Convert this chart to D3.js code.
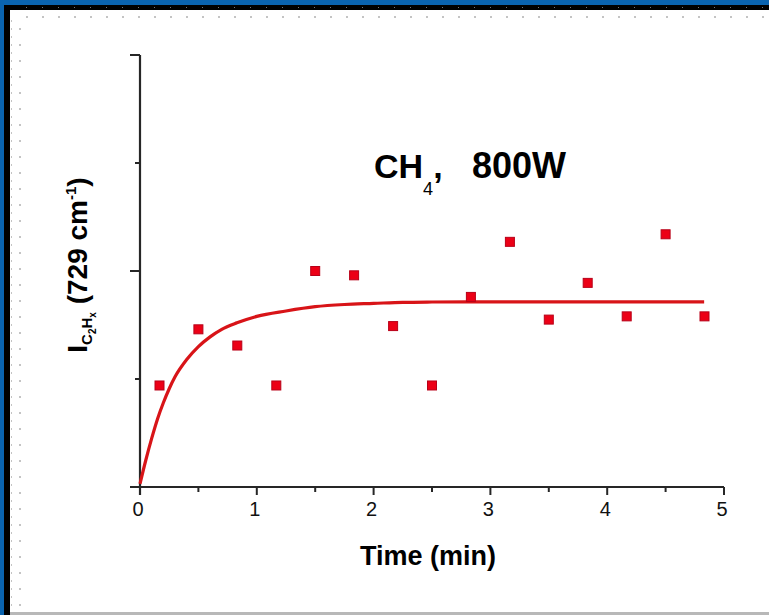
<!DOCTYPE html>
<html>
<head>
<meta charset="utf-8">
<script src="https://cdn.jsdelivr.net/npm/d3@7"></script>
<style>
  html, body { margin: 0; padding: 0; background: #ffffff; }
  svg { display: block; }
</style>
</head>
<body>
<div id="chart"></div>
<script>
// Measured points: time (min) vs. C2Hx band intensity (arb. units)
const timeMin = [0.167, 0.5, 0.833, 1.167, 1.5, 1.833, 2.167, 2.5, 2.833, 3.167, 3.5, 3.833, 4.167, 4.5, 4.833];
const intensity = [0.94, 1.46, 1.31, 0.94, 2.0, 1.96, 1.49, 0.94, 1.76, 2.27, 1.55, 1.89, 1.58, 2.34, 1.58];

// Fitted curve
const fitTime = [0, 0.05, 0.1, 0.15, 0.2, 0.25, 0.3, 0.4, 0.5, 0.6, 0.7, 0.83, 1.0, 1.25, 1.5, 1.75, 2.0, 2.25, 2.5, 3.0, 3.5, 4.0, 4.5, 4.83];
const fitValue = [0.03, 0.25, 0.45, 0.63, 0.78, 0.91, 1.02, 1.18, 1.3, 1.39, 1.46, 1.52, 1.58, 1.63, 1.67, 1.69, 1.70, 1.71, 1.713, 1.715, 1.715, 1.715, 1.715, 1.715];

const xTicksMajor = [0, 1, 2, 3, 4, 5];
const xTicksMinor = [0.5, 1.5, 2.5, 3.5, 4.5];
const yTicksMajor = [0, 2, 4];
const yTicksMinor = [1, 3];

const W = 769, H = 615;
const svg = d3.select('#chart').append('svg')
  .attr('width', W).attr('height', H)
  .attr('viewBox', `0 0 ${W} ${H}`);

// slide frame: blue band, black rule, faint dot rows
svg.append('rect').attr('x', 0).attr('y', 0).attr('width', W).attr('height', H).attr('fill', '#ffffff');
svg.append('rect').attr('x', 0).attr('y', 0).attr('width', W).attr('height', 5).attr('fill', '#0a64b0');
svg.append('rect').attr('x', 0).attr('y', 0).attr('width', 4).attr('height', H).attr('fill', '#0a64b0');
svg.append('rect').attr('x', 4).attr('y', 5).attr('width', W - 4).attr('height', 5).attr('fill', '#000000');
svg.append('rect').attr('x', 4).attr('y', 5).attr('width', 6).attr('height', H - 5).attr('fill', '#000000');
svg.append('rect').attr('x', 10).attr('y', 612).attr('width', W - 10).attr('height', 3).attr('fill', '#b8b8b8');

const dots = svg.append('g').attr('fill', '#c4c4c4');
d3.range(26, W, 16).forEach((dx) => {
  dots.append('rect').attr('x', dx).attr('y', 16).attr('width', 2).attr('height', 2);
  dots.append('rect').attr('x', dx).attr('y', 7).attr('width', 1).attr('height', 1).attr('fill', '#777');
});
d3.range(28, 612, 16).forEach((dy) => {
  dots.append('rect').attr('x', 19).attr('y', dy).attr('width', 2).attr('height', 2);
});
d3.range(20, 612, 8).forEach((dy) => {
  dots.append('rect').attr('x', 11).attr('y', dy).attr('width', 1).attr('height', 2);
});

const x = d3.scaleLinear().domain([0, 5]).range([140, 724]);
const y = d3.scaleLinear().domain([0, 4]).range([487, 55]);

const axisColor = '#262626';
const g = svg.append('g');

// axes lines
g.append('line').attr('x1', x(0) - 10).attr('x2', x(5)).attr('y1', y(0)).attr('y2', y(0))
  .attr('stroke', axisColor).attr('stroke-width', 2.2);
g.append('line').attr('x1', x(0)).attr('x2', x(0)).attr('y1', y(4)).attr('y2', y(0) + 8)
  .attr('stroke', axisColor).attr('stroke-width', 2.2);

// x ticks (pointing down)
g.selectAll('.xmaj').data(xTicksMajor).enter().append('line')
  .attr('x1', (d) => x(d)).attr('x2', (d) => x(d))
  .attr('y1', y(0)).attr('y2', y(0) + 8)
  .attr('stroke', axisColor).attr('stroke-width', 2);
g.selectAll('.xmin').data(xTicksMinor).enter().append('line')
  .attr('x1', (d) => x(d)).attr('x2', (d) => x(d))
  .attr('y1', y(0)).attr('y2', y(0) + 5)
  .attr('stroke', axisColor).attr('stroke-width', 2);

// y ticks (pointing left), no labels
g.selectAll('.ymaj').data(yTicksMajor).enter().append('line')
  .attr('x1', x(0) - 10).attr('x2', x(0))
  .attr('y1', (d) => y(d)).attr('y2', (d) => y(d))
  .attr('stroke', axisColor).attr('stroke-width', 2);
g.selectAll('.ymin').data(yTicksMinor).enter().append('line')
  .attr('x1', x(0) - 5).attr('x2', x(0))
  .attr('y1', (d) => y(d)).attr('y2', (d) => y(d))
  .attr('stroke', axisColor).attr('stroke-width', 2);

// x tick labels
g.selectAll('.xlab').data(xTicksMajor).enter().append('text')
  .attr('x', (d) => x(d) - 2)
  .attr('y', 516)
  .attr('text-anchor', 'middle')
  .attr('font-family', 'Liberation Sans, Arial, sans-serif')
  .attr('font-size', 20)
  .attr('fill', '#111')
  .text((d) => d);

// fit curve
const fitRows = fitTime.map((t, i) => ({ t, v: fitValue[i] }));
g.append('path')
  .datum(fitRows)
  .attr('d', d3.line().x((d) => x(d.t)).y((d) => y(d.v)).curve(d3.curveMonotoneX))
  .attr('fill', 'none')
  .attr('stroke', '#d81418')
  .attr('stroke-width', 3.2)
  .attr('stroke-linejoin', 'round');

// data squares
const pts = timeMin.map((t, i) => ({ t, v: intensity[i] }));
const sq = 9;
g.selectAll('.pt').data(pts).enter().append('rect')
  .attr('x', (d) => x(d.t) - sq / 2)
  .attr('y', (d) => y(d.v) - sq / 2)
  .attr('width', sq).attr('height', sq)
  .attr('fill', '#ec0016')
  .attr('stroke', '#b80018')
  .attr('stroke-width', 1);

// annotation
const font = 'Liberation Sans, Arial, Helvetica, sans-serif';
const title = svg.append('text')
  .attr('x', 374).attr('y', 178)
  .attr('font-family', font).attr('font-weight', 'bold')
  .attr('font-size', 34).attr('fill', '#000');
title.append('tspan').text('CH');
title.append('tspan').attr('font-size', 18).attr('font-weight', 'normal').attr('dy', 17).text('4');
title.append('tspan').attr('dy', -17).text(',');
title.append('tspan').attr('x', 472).attr('font-size', 36).text('800W');

// axis titles
svg.append('text')
  .attr('x', 428).attr('y', 565)
  .attr('text-anchor', 'middle')
  .attr('font-family', font).attr('font-weight', 'bold')
  .attr('font-size', 27).attr('fill', '#000')
  .text('Time (min)');

const yl = svg.append('text')
  .attr('transform', 'translate(87,265) rotate(-90)')
  .attr('text-anchor', 'middle')
  .attr('font-family', font).attr('font-weight', 'bold')
  .attr('font-size', 28).attr('fill', '#000');
yl.append('tspan').text('I');
yl.append('tspan').attr('font-size', 15).attr('dy', 5).text('C');
yl.append('tspan').attr('font-size', 10).attr('dy', 4).text('2');
yl.append('tspan').attr('font-size', 15).attr('dy', -4).text('H');
yl.append('tspan').attr('font-size', 10).attr('dy', 4).text('x');
yl.append('tspan').attr('dy', -9).text(' (729 cm');
yl.append('tspan').attr('font-size', 15).attr('dy', -11).text('-1');
yl.append('tspan').attr('dy', 11).text(')');
</script>
</body>
</html>
